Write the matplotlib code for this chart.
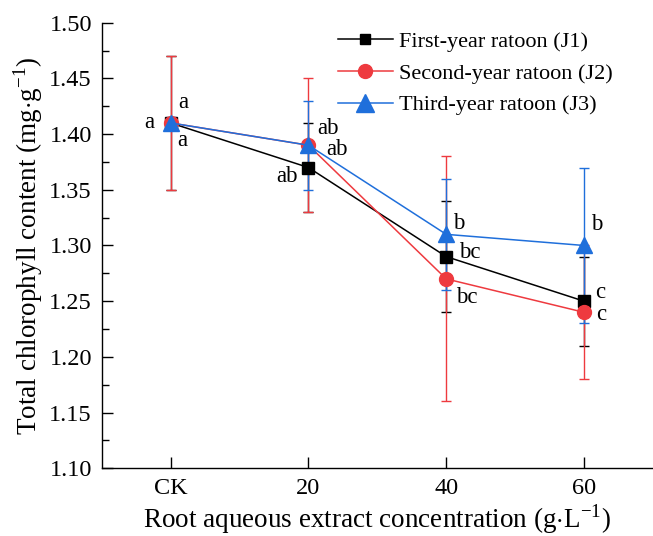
import matplotlib
matplotlib.use("Agg")
import matplotlib.pyplot as plt
from matplotlib.lines import Line2D

plt.rcParams['font.family'] = ['Liberation Serif', 'DejaVu Serif']
plt.rcParams['mathtext.fontset'] = 'custom'
plt.rcParams['mathtext.rm'] = 'Liberation Serif'

categories = ["CK", "20", "40", "60"]
series_names = ["First-year ratoon (J1)", "Second-year ratoon (J2)", "Third-year ratoon (J3)"]
j1 = [1.41, 1.37, 1.29, 1.25]
j1_err = [0.06, 0.04, 0.05, 0.04]
j2 = [1.41, 1.39, 1.27, 1.24]
j2_err = [0.06, 0.06, 0.11, 0.06]
j3 = [1.41, 1.39, 1.31, 1.30]
j3_err = [0.005, 0.04, 0.05, 0.07]

# significance letters (J1, J2, J3 order per category) and their placements
letters = [["a", "a", "a"], ["ab", "ab", "ab"], ["bc", "bc", "b"], ["c", "c", "b"]]
letter_pos = [
    [(-0.152, 1.410), (0.087, 1.394), (0.094, 1.428)],
    [(0.846, 1.362), (1.142, 1.405), (1.205, 1.386)],
    [(2.17, 1.294), (2.147, 1.253), (2.09, 1.320)],
    [(3.116, 1.258), (3.124, 1.238), (3.09, 1.319)],
]

colors = ["#000000", "#EE3A3F", "#1F6FDB"]
markers = ["s", "o", "^"]
msizes = [8.4, 10, 11]
leg_msizes = [7.7, 10, 12.5]

fig = plt.figure(figsize=(6.53, 5.36), dpi=100)
ax = fig.add_axes([0.1557, 0.1263, 0.8443, 0.8314])

x = list(range(len(categories)))
for vals, errs, c, m, ms in zip([j1, j2, j3], [j1_err, j2_err, j3_err], colors, markers, msizes):
    ax.errorbar(x, vals, yerr=errs, color=c, ecolor=c, marker=m, markersize=ms,
                linewidth=1.1, elinewidth=1.0, capsize=3.5, capthick=1.0)

for cat_letters, cat_pos in zip(letters, letter_pos):
    for lab, (px, py) in zip(cat_letters, cat_pos):
        ax.text(px, py, lab, ha='center', va='center', fontsize=16.5)

ax.set_xlim(-0.5, 3.5)
ax.set_ylim(1.10, 1.50)
ax.set_xticks(x)
ax.set_xticklabels(categories)
ax.set_yticks([1.10, 1.15, 1.20, 1.25, 1.30, 1.35, 1.40, 1.45, 1.50])
ax.set_yticks([1.125, 1.175, 1.225, 1.275, 1.325, 1.375, 1.425, 1.475], minor=True)
ax.tick_params(axis='both', which='major', direction='in', length=8, width=1.0, labelsize=17.5)
ax.tick_params(axis='y', which='minor', direction='in', length=5, width=1.0)
ax.tick_params(axis='x', which='major', pad=7)
ax.tick_params(axis='y', which='major', pad=7)
for s in ['top', 'right']:
    ax.spines[s].set_visible(False)
for s in ['left', 'bottom']:
    ax.spines[s].set_linewidth(1.0)

ax.set_xlabel(r"Root aqueous extract concentration (g$\cdot$L$^{\mathregular{-1}}$)", fontsize=19.5, labelpad=2)
ax.set_ylabel(r"Total chlorophyll content (mg$\cdot$g$^{\mathregular{-1}}$)", fontsize=19.5, labelpad=3)

handles = [Line2D([], [], color=c, marker=m, markersize=ms, linewidth=1.1)
           for c, m, ms in zip(colors, markers, leg_msizes)]
ax.legend(handles, series_names, loc='upper left', bbox_to_anchor=(0.412, 1.0), frameon=False,
          fontsize=16, handlelength=2.5, labelspacing=0.5, handletextpad=0.25, borderaxespad=0.0)

fig.savefig("out.png", dpi=100)
